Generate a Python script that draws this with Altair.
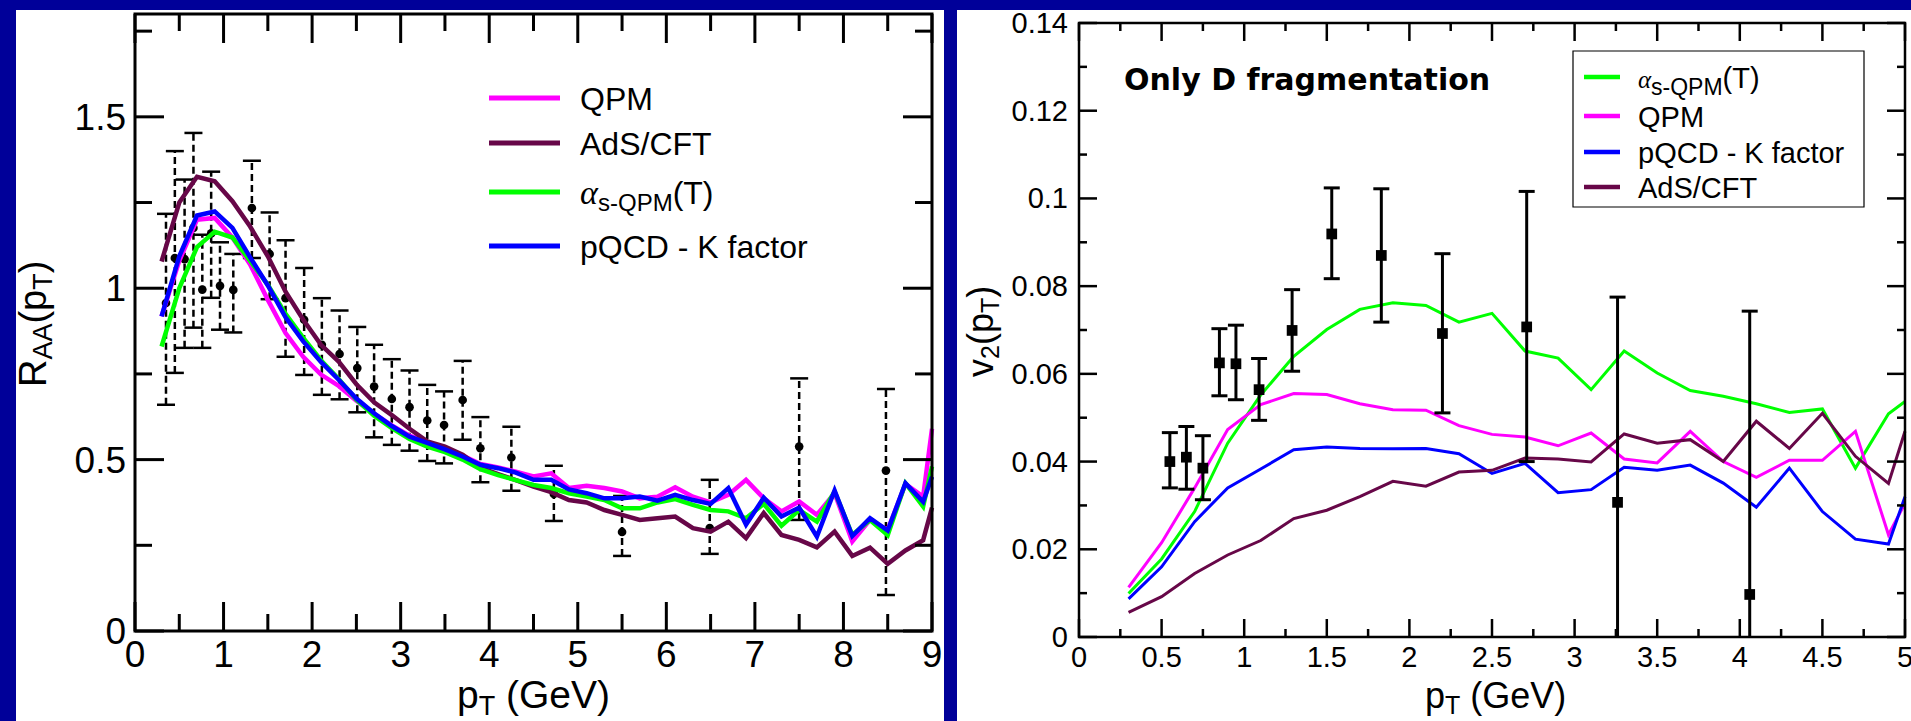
import altair as alt
import pandas as pd

# ============================ DATA ============================
# ---- Left panel: R_AA(pT) ----
L_X_LIMITS = [0, 9]
L_Y_LIMITS = [0, 1.8]
L_X_MAJOR = [0, 1, 2, 3, 4, 5, 6, 7, 8, 9]
L_X_MINOR = [0.5, 1.5, 2.5, 3.5, 4.5, 5.5, 6.5, 7.5, 8.5]
L_X_LABELS = ["0", "1", "2", "3", "4", "5", "6", "7", "8", "9"]
L_Y_MAJOR = [0, 0.5, 1, 1.5]
L_Y_MINOR = [0.25, 0.75, 1.25, 1.75]
L_Y_LABELS = ["0", "0.5", "1", "1.5"]

L_PT = [0.3, 0.5, 0.7, 0.9, 1.1, 1.3, 1.5, 1.7, 1.9, 2.1, 2.3, 2.5, 2.7, 2.9, 3.1,
        3.3, 3.5, 3.7, 3.9, 4.1, 4.3, 4.5, 4.7, 4.9, 5.1, 5.3, 5.5, 5.7, 5.9, 6.1,
        6.3, 6.5, 6.7, 6.9, 7.1, 7.3, 7.5, 7.7, 7.9, 8.1, 8.3, 8.5, 8.7, 8.9, 9.0]
L_QPM = [0.918, 1.08, 1.20, 1.205, 1.148, 1.069, 0.966, 0.869, 0.80, 0.748, 0.715, 0.672,
         0.634, 0.60, 0.57, 0.55, 0.535, 0.512, 0.487, 0.477, 0.465, 0.451, 0.46, 0.417,
         0.424, 0.417, 0.407, 0.387, 0.392, 0.419, 0.392, 0.375, 0.397, 0.441, 0.387,
         0.349, 0.378, 0.339, 0.402, 0.261, 0.324, 0.295, 0.429, 0.392, 0.59]
L_ADS = [1.078, 1.25, 1.325, 1.312, 1.254, 1.18, 1.093, 0.99, 0.908, 0.835, 0.786, 0.72,
         0.667, 0.63, 0.59, 0.553, 0.538, 0.514, 0.477, 0.458, 0.44, 0.421, 0.405, 0.382,
         0.375, 0.353, 0.339, 0.324, 0.329, 0.334, 0.30, 0.29, 0.319, 0.271, 0.344,
         0.28, 0.266, 0.244, 0.29, 0.219, 0.243, 0.196, 0.235, 0.265, 0.36]
L_ALPHA = [0.83, 1.0, 1.12, 1.165, 1.148, 1.08, 1.01, 0.925, 0.855, 0.79, 0.735, 0.675,
           0.628, 0.592, 0.56, 0.538, 0.522, 0.50, 0.472, 0.455, 0.44, 0.426, 0.417, 0.402,
           0.392, 0.382, 0.358, 0.358, 0.375, 0.385, 0.368, 0.353, 0.349, 0.329, 0.371,
           0.307, 0.353, 0.319, 0.407, 0.28, 0.324, 0.28, 0.431, 0.363, 0.48]
L_PQCD = [0.918, 1.093, 1.212, 1.224, 1.176, 1.09, 1.008, 0.915, 0.845, 0.785, 0.733, 0.678,
          0.635, 0.598, 0.567, 0.549, 0.53, 0.509, 0.485, 0.475, 0.462, 0.441, 0.441, 0.413,
          0.402, 0.387, 0.387, 0.392, 0.38, 0.397, 0.382, 0.371, 0.417, 0.31, 0.389,
          0.334, 0.36, 0.275, 0.41, 0.277, 0.329, 0.293, 0.431, 0.377, 0.45]

L_DATA_PT = [0.35, 0.45, 0.56, 0.66, 0.76, 0.86, 0.96, 1.11, 1.32, 1.52, 1.70, 1.91, 2.11, 2.31,
             2.51, 2.70, 2.90, 3.10, 3.30, 3.49, 3.70, 3.90, 4.25, 4.73, 5.50, 6.49, 7.50, 8.48]
L_DATA_Y = [0.957, 1.088, 1.085, 1.176, 0.996, 1.16, 1.007, 0.995, 1.234, 1.10, 0.971, 0.908,
            0.835, 0.808, 0.767, 0.713, 0.677, 0.653, 0.614, 0.601, 0.674, 0.533, 0.506, 0.40,
            0.289, 0.30, 0.538, 0.468]
L_DATA_HI = [1.217, 1.40, 1.317, 1.453, 1.156, 1.34, 1.134, 1.10, 1.372, 1.221, 1.14, 1.059,
             0.971, 0.935, 0.887, 0.835, 0.793, 0.76, 0.718, 0.699, 0.788, 0.624, 0.596, 0.482,
             0.394, 0.441, 0.737, 0.706]
L_DATA_LO = [0.66, 0.753, 0.826, 0.885, 0.826, 0.972, 0.879, 0.871, 1.088, 0.968, 0.80, 0.747,
             0.689, 0.676, 0.638, 0.565, 0.543, 0.526, 0.496, 0.489, 0.558, 0.434, 0.409, 0.321,
             0.219, 0.225, 0.324, 0.105]

# ---- Right panel: v2(pT) ----
R_X_LIMITS = [0, 5]
R_Y_LIMITS = [0, 0.14]
R_X_MAJOR = [0, 0.5, 1, 1.5, 2, 2.5, 3, 3.5, 4, 4.5, 5]
R_X_MINOR = [0.25, 0.75, 1.25, 1.75, 2.25, 2.75, 3.25, 3.75, 4.25, 4.75]
R_X_LABELS = ["0", "0.5", "1", "1.5", "2", "2.5", "3", "3.5", "4", "4.5", "5"]
R_Y_MAJOR = [0, 0.02, 0.04, 0.06, 0.08, 0.1, 0.12, 0.14]
R_Y_MINOR = [0.01, 0.03, 0.05, 0.07, 0.09, 0.11, 0.13]
R_Y_LABELS = ["0", "0.02", "0.04", "0.06", "0.08", "0.1", "0.12", "0.14"]

R_PT = [0.3, 0.5, 0.7, 0.9, 1.1, 1.3, 1.5, 1.7, 1.9, 2.1, 2.3, 2.5, 2.7, 2.9, 3.1, 3.3,
        3.5, 3.7, 3.9, 4.1, 4.3, 4.5, 4.7, 4.9, 5.0]
R_ALPHA = [0.0099, 0.0178, 0.0286, 0.0442, 0.0552, 0.064, 0.0701, 0.0747, 0.0762, 0.0756,
           0.0718, 0.0738, 0.0652, 0.0636, 0.0564, 0.0652, 0.0602, 0.0562, 0.0549, 0.0532,
           0.0512, 0.052, 0.0385, 0.0509, 0.0537]
R_QPM = [0.0113, 0.0215, 0.034, 0.0473, 0.053, 0.0555, 0.0553, 0.0532, 0.0518, 0.0517,
         0.0482, 0.0462, 0.0456, 0.0436, 0.0465, 0.0406, 0.0397, 0.0469, 0.04, 0.0364,
         0.0403, 0.0403, 0.0469, 0.0233, 0.0305]
R_PQCD = [0.0087, 0.016, 0.0263, 0.034, 0.0383, 0.0427, 0.0433, 0.043, 0.0429, 0.043,
          0.0418, 0.0373, 0.0396, 0.0329, 0.0336, 0.0387, 0.038, 0.0392, 0.0351, 0.0296,
          0.0385, 0.0286, 0.0223, 0.0212, 0.032]
R_ADS = [0.0056, 0.0092, 0.0145, 0.0187, 0.022, 0.027, 0.0289, 0.032, 0.0355, 0.0344,
         0.0376, 0.038, 0.0408, 0.0406, 0.0399, 0.0463, 0.0442, 0.045, 0.04, 0.0492,
         0.043, 0.051, 0.0412, 0.035, 0.0469]

R_DATA_PT = [0.55, 0.65, 0.75, 0.85, 0.95, 1.09, 1.29, 1.53, 1.83, 2.20, 2.71, 3.26, 4.06]
R_DATA_Y = [0.040, 0.041, 0.0385, 0.0625, 0.0623, 0.0564, 0.0699, 0.0919, 0.087, 0.0692,
            0.0707, 0.0307, 0.0097]
R_DATA_HI = [0.0466, 0.048, 0.0459, 0.0703, 0.0711, 0.0635, 0.0792, 0.1024, 0.1022, 0.0874,
             0.1016, 0.0775, 0.0743]
R_DATA_LO = [0.034, 0.0337, 0.0313, 0.055, 0.0541, 0.0494, 0.0606, 0.0817, 0.0718, 0.0511,
             0.040, 0.0, 0.0]

NAME_QPM = "QPM"
NAME_ADS = "AdS/CFT"
NAME_ALPHA = ["α", "s-QPM", "(T)"]
NAME_PQCD = "pQCD - K factor"
PANEL_NOTE = "Only D fragmentation"

# ============================ STYLE ============================
C_QPM = "#FF00FF"
C_ADS = "#670748"
C_ALPHA = "#00FF00"
C_PQCD = "#0000FF"
BG_BLUE = "#000099"
FONT = "Liberation Sans, Arial, Helvetica, sans-serif"
SERIF = "Liberation Serif, Times New Roman, serif"

CW, CH = 1911, 721
LXS = alt.Scale(domain=L_X_LIMITS, range=[135, 932], nice=False, zero=False)
LYS = alt.Scale(domain=L_Y_LIMITS, range=[631, 14], nice=False, zero=False)
RXS = alt.Scale(domain=R_X_LIMITS, range=[1079, 1905], nice=False, zero=False)
RYS = alt.Scale(domain=R_Y_LIMITS, range=[637, 23], nice=False, zero=False)

ONE = pd.DataFrame({"k": [0]})

AW = {'R': .722, 'A': .667, '(': .333, ')': .333, 'p': .556, 'T': .611, 'v': .5, '2': .556,
      ' ': .278, 'G': .778, 'e': .556, 'V': .667, 's': .5, '-': .333, 'Q': .778, 'P': .667,
      'M': .833}


def tw(s, size):
    return sum(AW.get(c, 0.556) for c in s) * size


def X(f, S):
    return alt.X(f, type="quantitative", scale=S, axis=None)


def Y(f, S):
    return alt.Y(f, type="quantitative", scale=S, axis=None)


def txt(s, x, y, size, angle=0, font=FONT, weight="normal", style="normal"):
    return alt.Chart(ONE).mark_text(
        text=s, font=font, fontSize=size, fontWeight=weight, fontStyle=style,
        align="left", baseline="alphabetic", angle=angle, color="black"
    ).encode(x=alt.value(x), y=alt.value(y))


def compose(pieces, x0, y0, vertical=False):
    """pieces: (text, size, baseline shift); leading spaces become an advance."""
    out, pos = [], 0.0
    for s, size, shift in pieces:
        lead = len(s) - len(s.lstrip(" "))
        pos += tw(" " * lead, size)
        s = s.lstrip(" ")
        if vertical:
            out.append(txt(s, x0 + shift, y0 - pos, size, angle=270))
        else:
            out.append(txt(s, x0 + pos, y0 + shift, size))
        pos += tw(s, size)
    return out


def hrule(x1, x2, y, color, w):
    return alt.Chart(ONE).mark_rule(color=color, strokeWidth=w).encode(
        x=alt.value(x1), x2=alt.value(x2), y=alt.value(y))


def box(x1, x2, y1, y2, fill, stroke=None, sw=0):
    kw = dict(fill=fill)
    if stroke:
        kw.update(stroke=stroke, strokeWidth=sw)
    return alt.Chart(ONE).mark_rect(**kw).encode(
        x=alt.value(x1), x2=alt.value(x2), y=alt.value(y1), y2=alt.value(y2))


def frame_and_ticks(XS, YS, xlim, ylim, xmaj, xmin, xlab, ymaj, ymin, ylab,
                    maj, mnr, tick_w, frame_w, lsize, xdy, ydx, ydy):
    layers = []
    for vals, ln in [(xmaj, maj), (xmin, mnr)]:
        base = alt.Chart(pd.DataFrame({"t": vals})).encode(x=X("t", XS))
        layers.append(base.mark_rule(color="black", strokeWidth=tick_w, y2Offset=-ln).encode(
            y=alt.YDatum(ylim[0], scale=YS, axis=None), y2=alt.Y2Datum(ylim[0])))
        layers.append(base.mark_rule(color="black", strokeWidth=tick_w, y2Offset=ln).encode(
            y=alt.YDatum(ylim[1], scale=YS, axis=None), y2=alt.Y2Datum(ylim[1])))
    for vals, ln in [(ymaj, maj), (ymin, mnr)]:
        base = alt.Chart(pd.DataFrame({"t": vals})).encode(y=Y("t", YS))
        layers.append(base.mark_rule(color="black", strokeWidth=tick_w, x2Offset=ln).encode(
            x=alt.XDatum(xlim[0], scale=XS, axis=None), x2=alt.X2Datum(xlim[0])))
        layers.append(base.mark_rule(color="black", strokeWidth=tick_w, x2Offset=-ln).encode(
            x=alt.XDatum(xlim[1], scale=XS, axis=None), x2=alt.X2Datum(xlim[1])))
    fr = pd.DataFrame({"x0": [xlim[0]], "x1": [xlim[1]], "y0": [ylim[0]], "y1": [ylim[1]]})
    layers.append(alt.Chart(fr).mark_rect(filled=False, stroke="black", strokeWidth=frame_w).encode(
        x=X("x0", XS), x2="x1", y=Y("y0", YS), y2="y1"))
    layers.append(alt.Chart(pd.DataFrame({"t": xmaj, "lab": xlab})).mark_text(
        font=FONT, fontSize=lsize, align="center", baseline="alphabetic", dy=xdy, color="black"
    ).encode(x=X("t", XS), y=alt.YDatum(ylim[0], scale=YS, axis=None), text="lab:N"))
    layers.append(alt.Chart(pd.DataFrame({"t": ymaj, "lab": ylab})).mark_text(
        font=FONT, fontSize=lsize, align="right", baseline="alphabetic", dx=ydx, dy=ydy, color="black"
    ).encode(y=Y("t", YS), x=alt.XDatum(xlim[0], scale=XS, axis=None), text="lab:N"))
    return layers


def curve(xs, ys, color, w, XS, YS):
    return alt.Chart(pd.DataFrame({"x": xs, "y": ys})).mark_line(
        color=color, strokeWidth=w).encode(x=X("x", XS), y=Y("y", YS))


# ============================ LEFT PANEL ============================
ldf = pd.DataFrame({"x": L_DATA_PT, "y": L_DATA_Y, "lo": L_DATA_LO, "hi": L_DATA_HI})
left_layers = [
    alt.Chart(ldf).mark_rule(color="black", strokeWidth=2.5, strokeDash=[7, 4]).encode(
        x=X("x", LXS), y=Y("lo", LYS), y2="hi"),
    alt.Chart(ldf).mark_tick(orient="horizontal", size=18, thickness=2.5, color="black", opacity=1).encode(
        x=X("x", LXS), y=Y("hi", LYS)),
    alt.Chart(ldf).mark_tick(orient="horizontal", size=18, thickness=2.5, color="black", opacity=1).encode(
        x=X("x", LXS), y=Y("lo", LYS)),
    alt.Chart(ldf).mark_circle(size=75, color="black", opacity=1).encode(
        x=X("x", LXS), y=Y("y", LYS)),
    curve(L_PT, L_QPM, C_QPM, 4.5, LXS, LYS),
    curve(L_PT, L_ADS, C_ADS, 4.5, LXS, LYS),
    curve(L_PT, L_ALPHA, C_ALPHA, 4.5, LXS, LYS),
    curve(L_PT, L_PQCD, C_PQCD, 4.5, LXS, LYS),
] + frame_and_ticks(LXS, LYS, L_X_LIMITS, L_Y_LIMITS, L_X_MAJOR, L_X_MINOR, L_X_LABELS,
                    L_Y_MAJOR, L_Y_MINOR, L_Y_LABELS, 29, 17, 3, 3, 37, 36, -9, 13)
left_group = alt.layer(*left_layers)

# ============================ RIGHT PANEL ============================
rdf = pd.DataFrame({"x": R_DATA_PT, "y": R_DATA_Y, "lo": R_DATA_LO, "hi": R_DATA_HI})
right_layers = [
    curve(R_PT, R_ALPHA, C_ALPHA, 3, RXS, RYS),
    curve(R_PT, R_QPM, C_QPM, 3, RXS, RYS),
    curve(R_PT, R_PQCD, C_PQCD, 3, RXS, RYS),
    curve(R_PT, R_ADS, C_ADS, 3, RXS, RYS),
    alt.Chart(rdf).mark_rule(color="black", strokeWidth=3).encode(
        x=X("x", RXS), y=Y("lo", RYS), y2="hi"),
    alt.Chart(rdf).mark_tick(orient="horizontal", size=16, thickness=3, color="black", opacity=1).encode(
        x=X("x", RXS), y=Y("hi", RYS)),
    alt.Chart(rdf).transform_filter("datum.lo > 0").mark_tick(
        orient="horizontal", size=16, thickness=3, color="black", opacity=1).encode(
        x=X("x", RXS), y=Y("lo", RYS)),
    alt.Chart(rdf).mark_square(size=115, color="black", opacity=1).encode(
        x=X("x", RXS), y=Y("y", RYS)),
] + frame_and_ticks(RXS, RYS, R_X_LIMITS, R_Y_LIMITS, R_X_MAJOR, R_X_MINOR, R_X_LABELS,
                    R_Y_MAJOR, R_Y_MINOR, R_Y_LABELS, 18, 8, 2.5, 2.5, 29, 30, -11, 10)
right_group = alt.layer(*right_layers)

# ============================ ANNOTATIONS ============================
ann = []
# axis titles
ann += compose([("R", 38, 0), ("AA", 27, 6), ("(p", 38, 0), ("T", 27, 6), (")", 38, 0)], 45.5, 387, vertical=True)
ann += compose([("p", 39, 0), ("T", 27, 7), (" (GeV)", 39, 0)], 457, 708)
ann += compose([("p", 36, 0), ("T", 25, 6), (" (GeV)", 36, 0)], 1425, 708)
ann += compose([("v", 36, 0), ("2", 25, 6), ("(p", 36, 0), ("T", 25, 6), (")", 36, 0)], 993, 377, vertical=True)

# left legend (no frame)
for name, col, yy in [(NAME_QPM, C_QPM, 98), (NAME_ADS, C_ADS, 143), (None, C_ALPHA, 192), (NAME_PQCD, C_PQCD, 246)]:
    ann.append(hrule(489, 560, yy, col, 5))
    if name:
        ann.append(txt(name, 580, yy + 11.5, 32))
ann.append(txt(NAME_ALPHA[0], 580, 203.5, 34, font=SERIF, style="italic"))
ann.append(txt(NAME_ALPHA[1], 598, 211, 24))
ann.append(txt(NAME_ALPHA[2], 598 + tw(NAME_ALPHA[1], 24), 203.5, 32))

# right legend (framed)
ann.append(box(1573, 1864, 51, 207, "white", "black", 1.2))
for name, col, yy in [(None, C_ALPHA, 77), (NAME_QPM, C_QPM, 116), (NAME_PQCD, C_PQCD, 152), (NAME_ADS, C_ADS, 187)]:
    ann.append(hrule(1584, 1620, yy, col, 4.5))
    if name:
        ann.append(txt(name, 1638, yy + 10.5, 29))
ann.append(txt(NAME_ALPHA[0], 1638, 87.5, 25, font=SERIF, style="italic"))
ann.append(txt(NAME_ALPHA[1], 1651, 95, 23))
ann.append(txt(NAME_ALPHA[2], 1651 + tw(NAME_ALPHA[1], 23), 87.5, 29))

ann.append(txt(PANEL_NOTE, 1124, 90, 30, font="DejaVu Sans, Verdana, sans-serif", weight="bold"))

# blue separator between the two panels (drawn on top)
ann.append(box(944, 957, 0, CH, BG_BLUE))

bg = [box(16, 944, 10, CH, "white"), box(957, CW, 10, CH, "white")]

chart = alt.layer(*bg, left_group, right_group, *ann).resolve_scale(
    x="independent", y="independent"
).properties(
    width=CW, height=CH, padding=0, autosize=alt.AutoSizeParams(type="none")
).configure(background=BG_BLUE).configure_view(strokeWidth=0)

chart.save("out.html", embed_options={"renderer": "svg", "actions": False})
